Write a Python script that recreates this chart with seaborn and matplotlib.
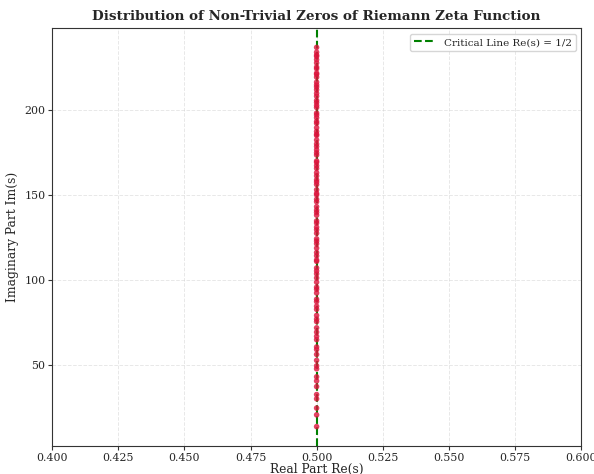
import numpy as np
import pandas as pd
import matplotlib.pyplot as plt
import seaborn as sns

# imaginary parts of the first 100 non-trivial zeros
zeros_im = [
    14.134725, 21.022040, 25.010858, 30.424876, 32.935062, 37.586178, 40.918719, 43.327073,
    48.005151, 49.773832, 52.970321, 56.446248, 59.347044, 60.831779, 65.112544, 67.079811,
    69.546402, 72.067158, 75.704691, 77.144840, 79.337375, 82.910381, 84.735493, 87.425275,
    88.809111, 92.491899, 94.651344, 95.870634, 98.831194, 101.317851, 103.725538, 105.446623,
    107.168611, 111.029536, 111.874659, 114.320221, 116.226680, 118.790783, 121.370125, 122.946829,
    124.256819, 127.516684, 129.578704, 131.087689, 133.497737, 134.756510, 138.116042, 139.736209,
    141.123707, 143.111846, 146.000982, 147.422765, 150.053520, 150.925258, 153.024694, 156.112909,
    157.597592, 158.849988, 161.188964, 163.030709, 165.537069, 167.184440, 169.094515, 169.911977,
    173.411537, 174.754191, 176.441434, 178.377408, 179.916484, 182.207078, 184.874468, 185.598784,
    187.228923, 189.416159, 192.026656, 193.079727, 195.265397, 196.876482, 198.015310, 201.264752,
    202.493595, 204.189672, 205.394697, 207.906259, 209.576510, 211.690863, 213.347919, 214.547045,
    216.169539, 219.067596, 220.714919, 221.430706, 224.007000, 224.983325, 227.421444, 229.337413,
    231.250189, 231.987235, 233.693404, 236.524230,
]
zeros_re = [0.5] * len(zeros_im)
xticks = [0.400, 0.425, 0.450, 0.475, 0.500, 0.525, 0.550, 0.575, 0.600]

df = pd.DataFrame({'re': zeros_re, 'im': zeros_im})

sns.set_style('white')
plt.rcParams['font.family'] = ['DejaVu Serif']

fig, ax = plt.subplots(figsize=(5.94, 4.74), dpi=100)
fig.subplots_adjust(left=0.088, right=0.978, top=0.94, bottom=0.06)

ax.axvline(0.5, color='green', linestyle='--', linewidth=1.5, label='Critical Line Re(s) = 1/2')
sns.scatterplot(data=df, x='re', y='im', color='crimson', s=16, alpha=0.8,
                edgecolor='none', ax=ax, zorder=3)

ax.set_xlim(0.4, 0.6)
ax.set_xticks(xticks)
ax.set_xticklabels([f'{v:.3f}' for v in xticks])
ax.grid(True, linestyle='--', alpha=0.45, linewidth=0.7)
for s in ax.spines.values():
    s.set_color('#333333')

ax.set_title('Distribution of Non-Trivial Zeros of Riemann Zeta Function', fontsize=9.7, fontweight='bold')
ax.set_xlabel('Real Part Re(s)', fontsize=8.8, labelpad=0)
ax.set_ylabel('Imaginary Part Im(s)', fontsize=8.8)
ax.tick_params(labelsize=7.9, bottom=True, left=True, length=3, width=0.8, color='#333333', pad=2)
ax.legend(loc='upper right', fontsize=7.5)

plt.savefig('out.png', dpi=100)
